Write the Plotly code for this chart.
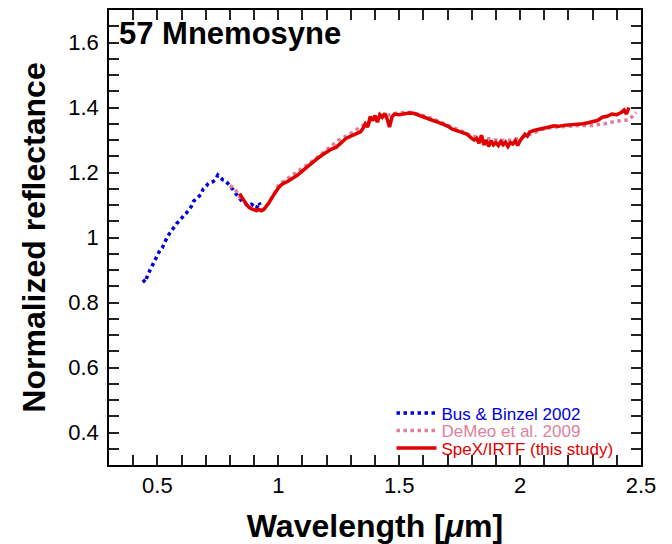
import plotly.graph_objects as go

# Bus & Binzel 2002
bus_x = [0.44, 0.45, 0.46, 0.47, 0.48, 0.49, 0.50, 0.51, 0.52, 0.53, 0.54, 0.55, 0.56, 0.57, 0.58,
         0.59, 0.60, 0.61, 0.62, 0.63, 0.64, 0.65, 0.66, 0.67, 0.68, 0.69, 0.70, 0.71, 0.72, 0.73,
         0.74, 0.75, 0.76, 0.77, 0.78, 0.79, 0.80, 0.81, 0.82, 0.83, 0.84, 0.85, 0.86, 0.87, 0.88,
         0.89, 0.90, 0.91, 0.92, 0.925]
bus_y = [0.870, 0.862, 0.885, 0.900, 0.915, 0.930, 0.945, 0.960, 0.968, 0.985, 1.000, 1.012, 1.022,
         1.035, 1.043, 1.050, 1.060, 1.068, 1.075, 1.085, 1.095, 1.112, 1.118, 1.125, 1.132, 1.150,
         1.158, 1.165, 1.170, 1.172, 1.178, 1.192, 1.185, 1.178, 1.176, 1.168, 1.160, 1.150, 1.140,
         1.128, 1.120, 1.112, 1.108, 1.100, 1.098, 1.102, 1.095, 1.090, 1.108, 1.100]

# DeMeo et al. 2009
demeo_x = [0.80, 0.82, 0.84, 0.86, 0.88, 0.90, 0.92, 0.94, 0.96, 0.98, 1.00, 1.02, 1.05, 1.10, 1.15,
           1.20, 1.25, 1.30, 1.35, 1.40, 1.45, 1.50, 1.55, 1.60, 1.65, 1.70, 1.75, 1.80, 1.85, 1.90,
           1.95, 2.00, 2.05, 2.10, 2.15, 2.20, 2.25, 2.30, 2.35, 2.40, 2.45, 2.48]
demeo_y = [1.160, 1.150, 1.125, 1.110, 1.095, 1.085, 1.082, 1.088, 1.105, 1.130, 1.160, 1.172, 1.188,
           1.212, 1.240, 1.270, 1.300, 1.320, 1.345, 1.362, 1.375, 1.385, 1.385, 1.375, 1.362, 1.345,
           1.330, 1.312, 1.305, 1.300, 1.298, 1.305, 1.320, 1.335, 1.340, 1.343, 1.345, 1.345, 1.350,
           1.358, 1.362, 1.385]

# SpeX/IRTF (this study)
spex_x = [0.84, 0.85, 0.86, 0.87, 0.88, 0.89, 0.90, 0.91, 0.92, 0.93, 0.94, 0.95, 0.96, 0.97, 0.98,
          0.99, 1.00, 1.01, 1.02, 1.04, 1.06, 1.08, 1.10, 1.12, 1.14, 1.16, 1.18, 1.20, 1.22, 1.24,
          1.26, 1.28, 1.30, 1.32, 1.34, 1.35, 1.36, 1.37, 1.38, 1.39, 1.40, 1.41, 1.42, 1.43, 1.44,
          1.45, 1.46, 1.47, 1.48, 1.50, 1.52, 1.54, 1.56, 1.58, 1.60, 1.62, 1.64, 1.66, 1.68, 1.70,
          1.72, 1.74, 1.76, 1.78, 1.80, 1.81, 1.82, 1.83, 1.84, 1.85, 1.86, 1.87, 1.88, 1.89, 1.90,
          1.91, 1.92, 1.93, 1.94, 1.95, 1.96, 1.97, 1.98, 1.99, 2.00, 2.01, 2.02, 2.03, 2.04, 2.06,
          2.08, 2.10, 2.12, 2.14, 2.16, 2.18, 2.20, 2.22, 2.24, 2.26, 2.28, 2.30, 2.32, 2.34, 2.36,
          2.38, 2.40, 2.42, 2.43, 2.44, 2.45]
spex_y = [1.135, 1.125, 1.112, 1.100, 1.092, 1.088, 1.085, 1.083, 1.086, 1.082, 1.086, 1.095, 1.105,
          1.118, 1.130, 1.142, 1.152, 1.160, 1.166, 1.173, 1.182, 1.192, 1.205, 1.218, 1.232, 1.242,
          1.253, 1.263, 1.272, 1.278, 1.290, 1.305, 1.312, 1.318, 1.325, 1.335, 1.350, 1.340, 1.372,
          1.360, 1.375, 1.355, 1.378, 1.370, 1.382, 1.365, 1.340, 1.370, 1.380, 1.378, 1.380, 1.383,
          1.382, 1.376, 1.370, 1.365, 1.360, 1.355, 1.350, 1.343, 1.333, 1.328, 1.325, 1.318, 1.305,
          1.300, 1.305, 1.290, 1.315, 1.285, 1.300, 1.280, 1.298, 1.285, 1.292, 1.283, 1.295, 1.285,
          1.293, 1.280, 1.292, 1.288, 1.298, 1.283, 1.298, 1.310, 1.318, 1.312, 1.325, 1.330, 1.333,
          1.335, 1.340, 1.344, 1.342, 1.345, 1.346, 1.347, 1.348, 1.350, 1.353, 1.356, 1.360, 1.370,
          1.373, 1.380, 1.378, 1.385, 1.392, 1.380, 1.400]

# tick positions and labels (labels only on major ticks)
x_tickvals = [0.3, 0.4, 0.5, 0.6, 0.7, 0.8, 0.9, 1.0, 1.1, 1.2, 1.3, 1.4, 1.5, 1.6, 1.7, 1.8, 1.9,
              2.0, 2.1, 2.2, 2.3, 2.4, 2.5]
x_ticktext = ["", "", "0.5", "", "", "", "", "1", "", "", "", "", "1.5", "", "", "", "", "2", "", "",
              "", "", "2.5"]
y_tickvals = [0.35, 0.4, 0.45, 0.5, 0.55, 0.6, 0.65, 0.7, 0.75, 0.8, 0.85, 0.9, 0.95, 1.0, 1.05, 1.1,
              1.15, 1.2, 1.25, 1.3, 1.35, 1.4, 1.45, 1.5, 1.55, 1.6, 1.65]
y_ticktext = ["", "0.4", "", "", "", "0.6", "", "", "", "0.8", "", "", "", "1", "", "", "", "1.2", "",
              "", "", "1.4", "", "", "", "1.6", ""]

BLUE = "#0000d8"
PINK = "#e07f9c"
RED = "#e00000"
FONT = "Liberation Sans, Arial, Helvetica, sans-serif"

fig = go.Figure()
fig.add_trace(go.Scatter(x=bus_x, y=bus_y, mode="lines", legend="legend",
                         line=dict(color=BLUE, width=3.5, dash="dot"),
                         name='<span style="color:%s">Bus &amp; Binzel 2002</span>' % BLUE))
fig.add_trace(go.Scatter(x=demeo_x, y=demeo_y, mode="lines", legend="legend2",
                         line=dict(color=PINK, width=3.5, dash="dot"),
                         name='<span style="color:%s">DeMeo et al. 2009</span>' % PINK))
fig.add_trace(go.Scatter(x=spex_x, y=spex_y, mode="lines", legend="legend3",
                         line=dict(color=RED, width=3.5),
                         name='<span style="color:%s">SpeX/IRTF (this study)</span>' % RED))

fig.update_xaxes(range=[0.3, 2.5], tickmode="array", tickvals=x_tickvals, ticktext=x_ticktext,
                 showline=True, linecolor="black", linewidth=1.5, mirror="ticks",
                 ticks="inside", ticklen=10, tickwidth=2, tickcolor="#222222",
                 showgrid=False, zeroline=False, automargin=False,
                 tickfont=dict(family=FONT, size=22, color="black"),
                 title=dict(text="<b>Wavelength [<i>μ</i>m]</b>", font=dict(family=FONT, size=32, color="black"),
                            standoff=17))
fig.update_yaxes(range=[0.3, 1.7], tickmode="array", tickvals=y_tickvals, ticktext=y_ticktext,
                 showline=True, linecolor="black", linewidth=1.5, mirror="ticks",
                 ticks="inside", ticklen=10, tickwidth=2, tickcolor="#222222",
                 ticklabelstandoff=4,
                 showgrid=False, zeroline=False, automargin=False,
                 tickfont=dict(family=FONT, size=22, color="black"),
                 title=dict(text="<b>Normalized reflectance</b>", font=dict(family=FONT, size=32, color="black"),
                            standoff=13))

fig.add_annotation(x=0, y=1, xref="paper", yref="paper", xanchor="left", yanchor="top",
                   xshift=8, yshift=-4, showarrow=False,
                   text="<b>57 Mnemosyne</b>", font=dict(family=FONT, size=31, color="black"))

leg_common = dict(xanchor="left", yanchor="middle", bgcolor="rgba(0,0,0,0)",
                  font=dict(family=FONT, size=17), itemwidth=40, borderwidth=0)
fig.update_layout(
    width=672, height=544,
    margin=dict(l=109, r=31, t=10, b=79),
    plot_bgcolor="white", paper_bgcolor="white",
    showlegend=True,
    legend=dict(x=0.531, y=0.1133, **leg_common),
    legend2=dict(x=0.531, y=0.0748, **leg_common),
    legend3=dict(x=0.531, y=0.0363, **leg_common),
)

fig.write_html("out.html", config={"displayModeBar": False},
               post_script="document.body.style.margin='0';document.body.style.padding='0';"
                           "document.body.style.overflow='hidden';")
